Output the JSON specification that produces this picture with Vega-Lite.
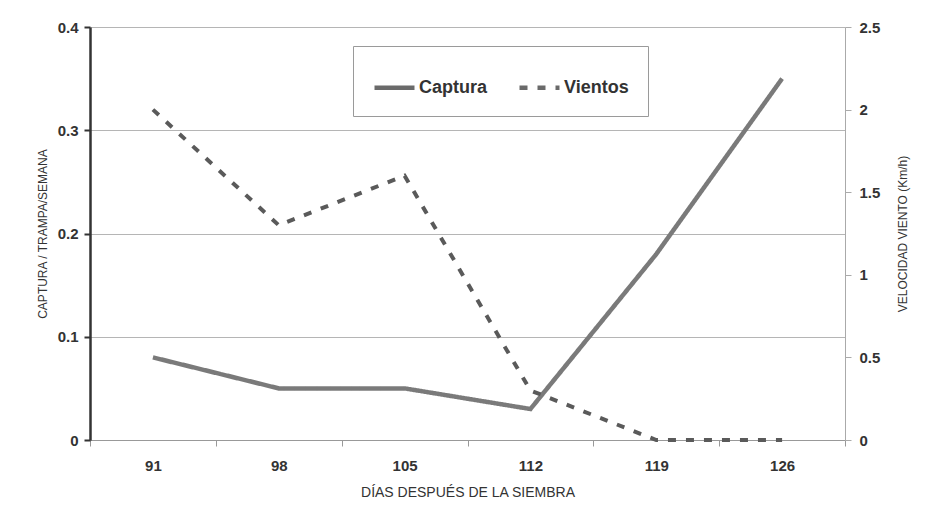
{
  "$schema": "https://vega.github.io/schema/vega-lite/v6.json",
  "autosize": "none",
  "width": 755,
  "height": 413,
  "padding": {"left": 90, "top": 27, "right": 82, "bottom": 81},
  "background": "white",
  "config": {
    "font": "Liberation Sans",
    "view": {"stroke": null},
    "axis": {
      "labelFont": "Liberation Sans",
      "labelFontWeight": "bold",
      "labelFontSize": 15,
      "labelColor": "#333333",
      "titleFont": "Liberation Sans",
      "titleFontWeight": "normal",
      "titleColor": "#333333"
    }
  },
  "data": {
    "values": [
      {"dia": 91, "captura": 0.08, "vientos": 2.0},
      {"dia": 98, "captura": 0.05, "vientos": 1.3},
      {"dia": 105, "captura": 0.05, "vientos": 1.6},
      {"dia": 112, "captura": 0.03, "vientos": 0.3},
      {"dia": 119, "captura": 0.18, "vientos": 0.0},
      {"dia": 126, "captura": 0.35, "vientos": 0.0}
    ]
  },
  "encoding": {
    "x": {
      "field": "dia",
      "type": "ordinal",
      "scale": {"paddingInner": 0, "paddingOuter": 0},
      "axis": {
        "title": "DÍAS DESPUÉS DE LA SIEMBRA",
        "titleFontSize": 14,
        "titlePadding": 12,
        "labelAngle": 0,
        "labelPadding": 12,
        "domainColor": "#999999",
        "tickColor": "#999999",
        "tickBand": "extent",
        "tickSize": 6
      }
    },
    "strokeDash": {
      "scale": {"domain": ["Captura", "Vientos"], "range": [[1, 0], [8, 10]]},
      "legend": {
        "title": null,
        "orient": "none",
        "legendX": 263,
        "legendY": 19,
        "direction": "horizontal",
        "symbolType": "stroke",
        "symbolSize": 1600,
        "symbolStrokeWidth": 4.5,
        "symbolStrokeColor": "#6a6a6a",
        "labelFont": "Liberation Sans",
        "labelFontWeight": "bold",
        "labelFontSize": 18,
        "labelColor": "#333333",
        "labelOffset": 2,
        "columnPadding": 22,
        "padding": 19,
        "strokeColor": "#9a9a9a",
        "fillColor": "white"
      }
    }
  },
  "layer": [
    {
      "mark": {"type": "line", "strokeWidth": 4.5, "color": "#7a7a7a"},
      "encoding": {
        "y": {
          "field": "captura",
          "type": "quantitative",
          "scale": {"domain": [0, 0.4]},
          "axis": {
            "title": "CAPTURA / TRAMPA/SEMANA",
            "titleFontSize": 12,
            "titlePadding": 8,
            "values": [0, 0.1, 0.2, 0.3, 0.4],
            "format": ".1~f",
            "labelPadding": 6,
            "domainColor": "#333333",
            "domainWidth": 2.5,
            "tickColor": "#333333",
            "tickWidth": 2,
            "tickSize": 6,
            "grid": true,
            "gridColor": "#b5b5b5"
          }
        },
        "strokeDash": {"datum": "Captura"}
      }
    },
    {
      "mark": {"type": "line", "strokeWidth": 4, "color": "#5a5a5a"},
      "encoding": {
        "y": {
          "field": "vientos",
          "type": "quantitative",
          "scale": {"domain": [0, 2.5]},
          "axis": {
            "orient": "right",
            "title": "VELOCIDAD VIENTO (Km/h)",
            "titleFontSize": 12,
            "titleAngle": 270,
            "titlePadding": 30,
            "values": [0, 0.5, 1, 1.5, 2, 2.5],
            "format": "~g",
            "labelPadding": 8,
            "domainColor": "#aaaaaa",
            "tickColor": "#aaaaaa",
            "tickSize": 6,
            "grid": false
          }
        },
        "strokeDash": {"datum": "Vientos"}
      }
    }
  ],
  "resolve": {"scale": {"y": "independent"}}
}
